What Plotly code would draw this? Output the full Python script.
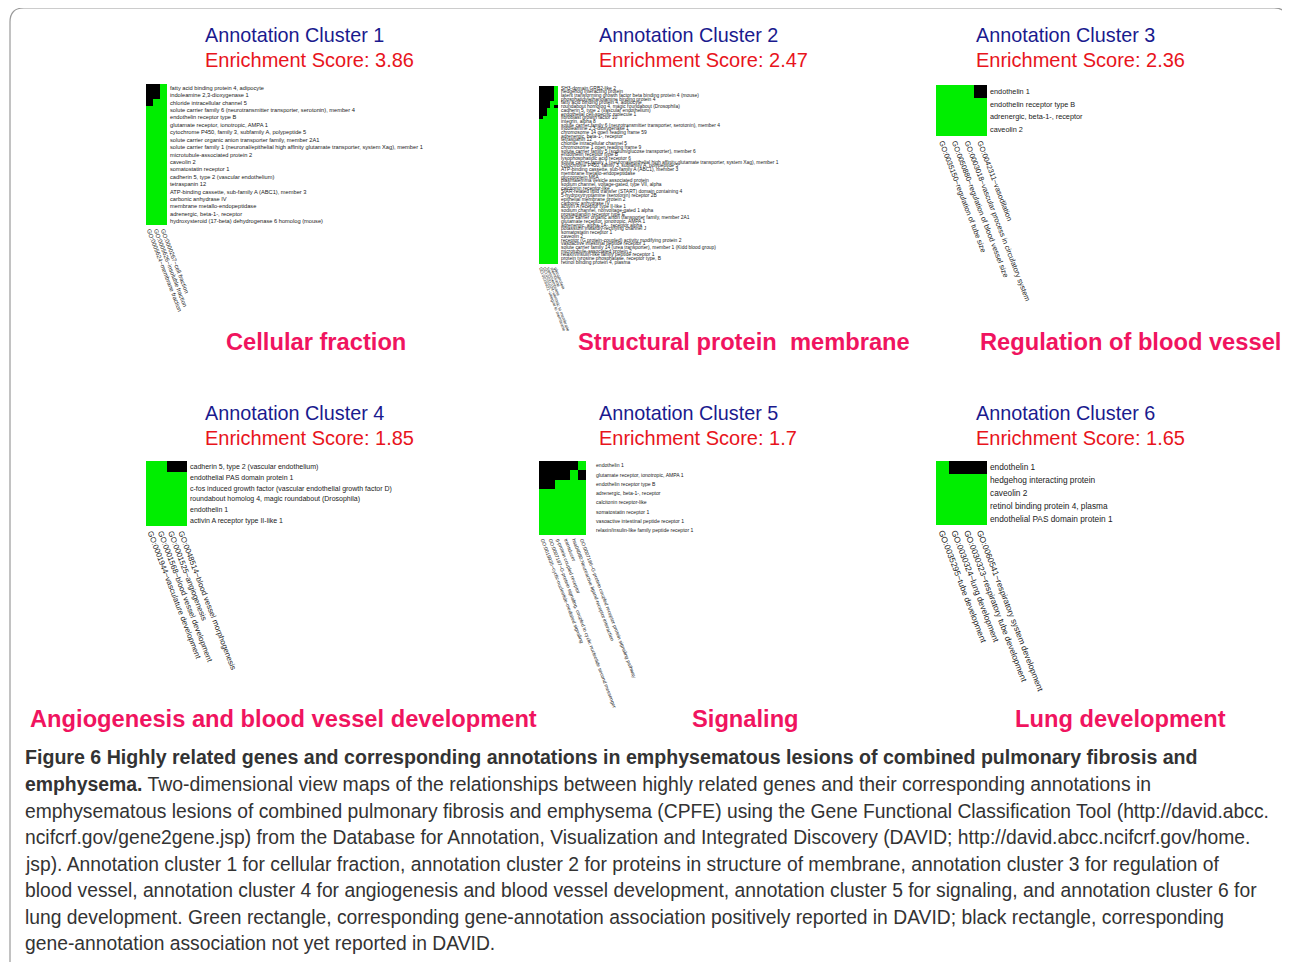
import plotly.graph_objects as go

W, H = 1290, 962

# ---------------- data ----------------
cluster_names = ["Annotation Cluster 1", "Annotation Cluster 2", "Annotation Cluster 3",
                 "Annotation Cluster 4", "Annotation Cluster 5", "Annotation Cluster 6"]
enrichment_scores = ["3.86", "2.47", "2.36", "1.85", "1.7", "1.65"]
category_titles = ["Cellular fraction", "Structural protein  membrane", "Regulation of blood vessel",
                   "Angiogenesis and blood vessel development", "Signaling", "Lung development"]

genes1 = [
    "fatty acid binding protein 4, adipocyte",
    "indoleamine 2,3-dioxygenase 1",
    "chloride intracellular channel 5",
    "solute carrier family 6 (neurotransmitter transporter, serotonin), member 4",
    "endothelin receptor type B",
    "glutamate receptor, ionotropic, AMPA 1",
    "cytochrome P450, family 3, subfamily A, polypeptide 5",
    "solute carrier organic anion transporter family, member 2A1",
    "solute carrier family 1 (neuronal/epithelial high affinity glutamate transporter, system Xag), member 1",
    "microtubule-associated protein 2",
    "caveolin 2",
    "somatostatin receptor 1",
    "cadherin 5, type 2 (vascular endothelium)",
    "tetraspanin 12",
    "ATP-binding cassette, sub-family A (ABC1), member 3",
    "carbonic anhydrase IV",
    "membrane metallo-endopeptidase",
    "adrenergic, beta-1-, receptor",
    "hydroxysteroid (17-beta) dehydrogenase 6 homolog (mouse)",
]
terms1 = ["GO:0005624~membrane fraction", "GO:0005626~insoluble fraction", "GO:0000267~cell fraction"]
assoc1 = [
    [0, 0, 1], [0, 0, 1], [0, 1, 1], [1, 1, 1], [1, 1, 1], [1, 1, 1], [1, 1, 1], [1, 1, 1],
    [1, 1, 1], [1, 1, 1], [1, 1, 1], [1, 1, 1], [1, 1, 1], [1, 1, 1], [1, 1, 1], [1, 1, 1],
    [1, 1, 1], [1, 1, 1], [1, 1, 1],
]

genes2 = [
    "SH3-domain GRB2-like 2",
    "hedgehog interacting protein",
    "latent transforming growth factor beta binding protein 4 (mouse)",
    "phosphatidylethanolamine binding protein 4",
    "fatty acid binding protein 4, adipocyte",
    "roundabout homolog 4, magic roundabout (Drosophila)",
    "cadherin 5, type 2 (vascular endothelium)",
    "endothelial cell-specific molecule 1",
    "fibroblast growth factor 10",
    "integrin, alpha 8",
    "solute carrier family 6 (neurotransmitter transporter, serotonin), member 4",
    "indoleamine 2,3-dioxygenase 1",
    "chromosome 14 open reading frame 59",
    "adrenergic, beta-1-, receptor",
    "tetraspanin 12",
    "chloride intracellular channel 5",
    "chromosome 1 open reading frame 9",
    "solute carrier family 5 (sodium/glucose transporter), member 6",
    "endothelin receptor type B",
    "lysophosphatidic acid receptor 6",
    "solute carrier family 1 (neuronal/epithelial high affinity glutamate transporter, system Xag), member 1",
    "cytochrome P450, family 3, subfamily A, polypeptide 5",
    "ATP-binding cassette, sub-family A (ABC1), member 3",
    "membrane metallo-endopeptidase",
    "glycoprotein M6A",
    "plasmalemma vesicle associated protein",
    "sodium channel, voltage-gated, type VII, alpha",
    "calcitonin receptor-like",
    "StAR-related lipid transfer (START) domain containing 4",
    "5-hydroxytryptamine (serotonin) receptor 2B",
    "epithelial membrane protein 2",
    "carbonic anhydrase IV",
    "activin A receptor type II-like 1",
    "sodium channel, nonvoltage-gated 1 alpha",
    "prostaglandin receptor type E",
    "solute carrier organic anion transporter family, member 2A1",
    "glutamate receptor, ionotropic, AMPA 1",
    "adrenergic, alpha-1A-, receptor alpha",
    "potassium inwardly-rectifying channel J",
    "somatostatin receptor 1",
    "caveolin 2",
    "receptor (G protein-coupled) activity modifying protein 2",
    "vasoactive intestinal peptide receptor 1",
    "solute carrier family 14 (urea transporter), member 1 (Kidd blood group)",
    "microtubule-associated protein 2",
    "relaxin/insulin-like family peptide receptor 1",
    "protein tyrosine phosphatase, receptor type, B",
    "retinol binding protein 4, plasma",
]
terms2 = ["GO:0016021~integral to membrane", "GO:0031224~intrinsic to membrane",
          "transmembrane", "membrane", "glycoprotein"]
assoc2 = [
    [0, 0, 0, 0, 1], [0, 0, 0, 0, 1], [0, 0, 0, 0, 1], [0, 0, 0, 0, 1],
    [0, 0, 0, 1, 1], [0, 0, 0, 1, 0], [0, 0, 1, 1, 1], [0, 0, 1, 1, 1],
    [0, 1, 1, 1, 1],
] + [[1, 1, 1, 1, 1] for _ in range(39)]

genes3 = ["endothelin 1", "endothelin receptor type B", "adrenergic, beta-1-, receptor", "caveolin 2"]
terms3 = ["GO:0035150~regulation of tube size", "GO:0050880~regulation of blood vessel size",
          "GO:0003018~vascular process in circulatory system", "GO:0042311~vasodilation"]
assoc3 = [[1, 1, 1, 0], [1, 1, 1, 1], [1, 1, 1, 1], [1, 1, 1, 1]]

genes4 = ["cadherin 5, type 2 (vascular endothelium)", "endothelial PAS domain protein 1",
          "c-fos induced growth factor (vascular endothelial growth factor D)",
          "roundabout homolog 4, magic roundabout (Drosophila)", "endothelin 1",
          "activin A receptor type II-like 1"]
terms4 = ["GO:0001944~vasculature development", "GO:0001568~blood vessel development",
          "GO:0001525~angiogenesis", "GO:0048514~blood vessel morphogenesis"]
assoc4 = [[1, 1, 0, 0], [1, 1, 1, 1], [1, 1, 1, 1], [1, 1, 1, 1], [1, 1, 1, 1], [1, 1, 1, 1]]

genes5 = ["endothelin 1", "glutamate receptor, ionotropic, AMPA 1", "endothelin receptor type B",
          "adrenergic, beta-1-, receptor", "calcitonin receptor-like", "somatostatin receptor 1",
          "vasoactive intestinal peptide receptor 1", "relaxin/insulin-like family peptide receptor 1"]
terms5 = ["GO:0019935~cyclic-nucleotide-mediated signaling",
          "GO:0007187~G-protein signaling, coupled to cyclic nucleotide second messenger",
          "g-protein coupled receptor", "transducer",
          "hsa04080:Neuroactive ligand-receptor interaction",
          "GO:0007186~G-protein coupled receptor protein signaling pathway"]
assoc5 = [[0, 0, 0, 0, 0, 1], [0, 0, 0, 0, 1, 0], [0, 0, 1, 1, 1, 1], [1, 1, 1, 1, 1, 1],
          [1, 1, 1, 1, 1, 1], [1, 1, 1, 1, 1, 1], [1, 1, 1, 1, 1, 1], [1, 1, 1, 1, 1, 1]]

genes6 = ["endothelin 1", "hedgehog interacting protein", "caveolin 2",
          "retinol binding protein 4, plasma", "endothelial PAS domain protein 1"]
terms6 = ["GO:0035295~tube development", "GO:0030324~lung development",
          "GO:0030323~respiratory tube development", "GO:0060541~respiratory system development"]
assoc6 = [[1, 0, 0, 0], [1, 1, 1, 1], [1, 1, 1, 1], [1, 1, 1, 1], [1, 1, 1, 1]]

caption_lines = [
    "<b>Figure 6 Highly related genes and corresponding annotations in emphysematous lesions of combined pulmonary fibrosis and</b>",
    "<b>emphysema.</b> Two-dimensional view maps of the relationships between highly related genes and their corresponding annotations in",
    "emphysematous lesions of combined pulmonary fibrosis and emphysema (CPFE) using the Gene Functional Classification Tool (http://david.abcc.",
    "ncifcrf.gov/gene2gene.jsp) from the Database for Annotation, Visualization and Integrated Discovery (DAVID; http://david.abcc.ncifcrf.gov/home.",
    "jsp). Annotation cluster 1 for cellular fraction, annotation cluster 2 for proteins in structure of membrane, annotation cluster 3 for regulation of",
    "blood vessel, annotation cluster 4 for angiogenesis and blood vessel development, annotation cluster 5 for signaling, and annotation cluster 6 for",
    "lung development. Green rectangle, corresponding gene-annotation association positively reported in DAVID; black rectangle, corresponding",
    "gene-annotation association not yet reported in DAVID.",
]

# ---------------- layout helpers ----------------
OFF = 8  # page body offset of the rendered figure


def fx(px):
    return (px - OFF) / W


def fy(py):
    return 1 - (py - OFF) / H


panels = [
    dict(genes=genes1, terms=terms1, z=assoc1, box=(146, 167, 84, 225), gf=5.7, tf=6.0, sd=2, tx=205, ty=35, cx=316, cy=342),
    dict(genes=genes2, terms=terms2, z=assoc2, box=(539, 558, 86, 264), gf=4.9, tf=4.3, sd=2, tx=599, ty=35, cx=744, cy=342),
    dict(genes=genes3, terms=terms3, z=assoc3, box=(936, 987, 85, 136), gf=7.3, tf=7.4, sd=2, tx=976, ty=35, cx=1130, cy=342),
    dict(genes=genes4, terms=terms4, z=assoc4, box=(146, 187, 461, 526), gf=7.0, tf=7.8, sd=2, tx=205, ty=413, cx=283, cy=719),
    dict(genes=genes5, terms=terms5, z=assoc5, box=(539, 586, 461, 535), gf=5.1, tf=5.0, sd=9, tx=599, ty=413, cx=746, cy=719),
    dict(genes=genes6, terms=terms6, z=assoc6, box=(936, 987, 461, 525), gf=8.3, tf=8.4, sd=2, tx=976, ty=413, cx=1120, cy=719),
]

fig = go.Figure()
annotations = []
NAVY = "#1a1a8e"
RED = "#e8141c"
PINK = "#f0145f"
GREEN = "#00ee00"
FONT = "Liberation Sans, Arial, sans-serif"

for i, p in enumerate(panels):
    k = "" if i == 0 else str(i + 1)
    nrow, ncol = len(p["genes"]), len(p["terms"])
    fig.add_trace(go.Heatmap(
        z=p["z"], x=list(range(ncol)), y=list(range(nrow)),
        colorscale=[[0, "#000000"], [1, GREEN]], zmin=0, zmax=1,
        showscale=False, hoverinfo="skip",
        xaxis="x" + k, yaxis="y" + k,
    ))
    x0, x1, y0, y1 = p["box"]
    fig.layout["xaxis" + k] = dict(
        domain=[fx(x0), fx(x1)], range=[-0.5, ncol - 0.5], anchor="y" + k,
        tickmode="array", tickvals=list(range(ncol)), ticktext=p["terms"],
        tickangle=69, showgrid=False, zeroline=False, showline=False, ticks="",
        tickfont=dict(family=FONT, size=p["tf"], color="#222222"),
        automargin=False, fixedrange=True,
    )
    fig.layout["yaxis" + k] = dict(
        domain=[fy(y1), fy(y0)], range=[nrow - 0.5, -0.5], anchor="x" + k, side="right",
        tickmode="array", tickvals=list(range(nrow)), ticktext=p["genes"],
        showgrid=False, zeroline=False, showline=False, ticks="",
        ticklabelstandoff=p["sd"],
        tickfont=dict(family=FONT, size=p["gf"], color="#222222"),
        automargin=False, fixedrange=True,
    )
    annotations.append(dict(
        text=cluster_names[i], x=fx(p["tx"] - 2), y=fy(p["ty"]), xref="paper", yref="paper",
        xanchor="left", yanchor="middle", showarrow=False,
        font=dict(family=FONT, size=19.8, color=NAVY)))
    annotations.append(dict(
        text="Enrichment Score: " + enrichment_scores[i], x=fx(p["tx"] - 2), y=fy(p["ty"] + 25),
        xref="paper", yref="paper", xanchor="left", yanchor="middle", showarrow=False,
        font=dict(family=FONT, size=20, color=RED)))
    annotations.append(dict(
        text="<b>" + category_titles[i] + "</b>", x=fx(p["cx"]), y=fy(p["cy"]),
        xref="paper", yref="paper", xanchor="center", yanchor="middle", showarrow=False,
        font=dict(family=FONT, size=23.7, color=PINK)))

cap_y = [757, 784, 811, 837, 864, 890, 917, 943]
cap_size = [19.6, 19.4, 19.3, 19.3, 19.3, 19.3, 19.3, 19.3]
for line, yy, sz in zip(caption_lines, cap_y, cap_size):
    annotations.append(dict(
        text=line, x=fx(23), y=fy(yy), xref="paper", yref="paper",
        xanchor="left", yanchor="middle", showarrow=False,
        font=dict(family=FONT, size=sz, color="#333333")))


def P(px, py):
    return f"{fx(px):.5f},{fy(py):.5f}"


frame = (f"M {P(10, 980)} L {P(10, 22)} Q {P(10, 8)} {P(24, 8)} "
         f"L {P(1274, 8)} Q {P(1288, 8)} {P(1288, 22)} L {P(1288, 980)}")

fig.update_layout(
    width=W, height=H, margin=dict(l=0, r=0, t=0, b=0),
    template="none", paper_bgcolor="white", plot_bgcolor="white",
    showlegend=False, annotations=annotations,
    shapes=[dict(type="path", path=frame, xref="paper", yref="paper",
                 line=dict(color="#9a9a9a", width=1.2))],
)

fig.write_html("out.html")
